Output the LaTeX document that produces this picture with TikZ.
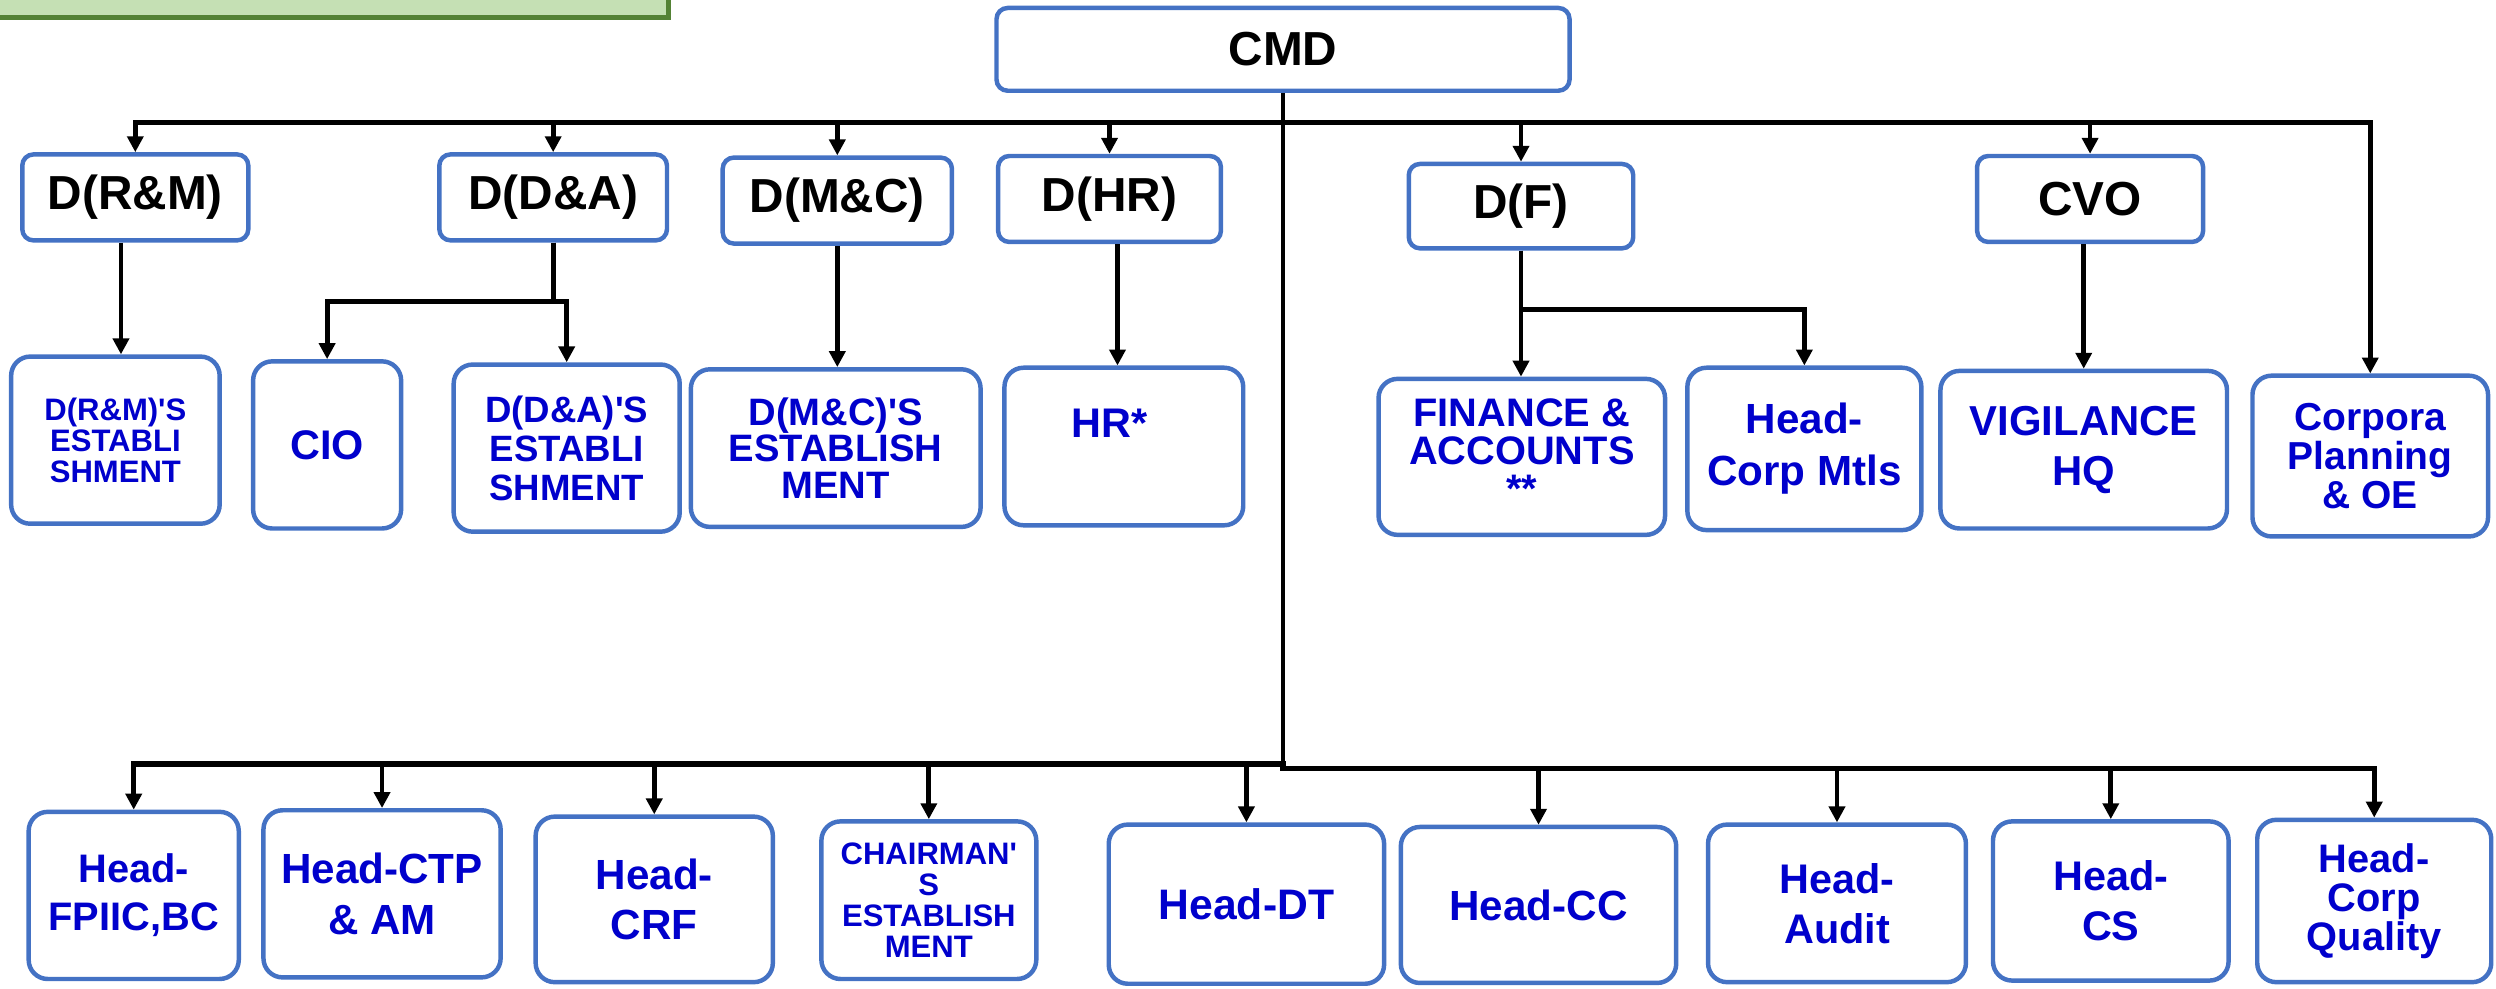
\documentclass[tikz,border=0pt]{standalone}
\usepackage{fontspec}
\setmainfont{Liberation Sans}
\usetikzlibrary{arrows.meta}
\definecolor{bxblue}{HTML}{4472C4}
\definecolor{txblue}{HTML}{0000CC}
\definecolor{grfill}{HTML}{C5E0B4}
\definecolor{grline}{HTML}{548235}
\newcommand\fs[2]{\fontsize{#1}{#2}\selectfont\bfseries}
\newcommand\sq{\XeTeXglyph\XeTeXcharglyph"27\relax}
\begin{document}
\begin{tikzpicture}[x=1pt,y=-1pt,
  box/.style={draw=bxblue,line width=2.8pt,fill=white,rounded corners=#1,inner sep=0pt,align=center},
  box/.default=12pt,
  topb/.style={box=7pt,text=black,font=\fs{30}{36}},
  sub/.style={box=12pt,text=txblue},
  ln/.style={line width=3pt,black},
  arr/.style={ln,-{Triangle[length=10pt,width=10pt]}},
  bar/.style={line width=3.5pt,black,line cap=rect}]
\useasboundingbox (0,0) rectangle (1568,621);
\fill[grfill] (-10,-10) rectangle (420,11);
\draw[grline,line width=3pt] (-10,-10) rectangle (420,11);

% top row
\node[topb,minimum width=360pt,minimum height=52pt] (cmd) at (806,31) {CMD};
\node[topb,minimum width=142pt,minimum height=54pt] (drm) at (85,124) {D(R\&M)};
\node[topb,minimum width=143pt,minimum height=54pt] (dda) at (347.5,124) {D(D\&A)};
\node[topb,minimum width=144pt,minimum height=54pt] (dmc) at (526,126) {D(M\&C)};
\node[topb,minimum width=140pt,minimum height=54pt] (dhr) at (697,125) {D(HR)};
\node[topb,minimum width=141pt,minimum height=53pt] (df) at (955.5,129.5) {D(F)};
\node[topb,minimum width=142pt,minimum height=54pt] (cvo) at (1313,125) {CVO};

% second row
\node[sub,font=\fs{19.5}{19.5},minimum width=131pt,minimum height=105pt] (drmE) at (72.5,276.5) {D(R\&M)\sq S\\ESTABLI\\SHMENT};
\node[sub,font=\fs{26}{31},minimum width=93pt,minimum height=105pt] (cio) at (205.5,279.5) {CIO};
\node[sub,font=\fs{23}{24.5},minimum width=142pt,minimum height=105pt] (ddaE) at (356,281.5) {D(D\&A)\sq S\\ESTABLI\\SHMENT};
\node[sub,font=\fs{24}{23},minimum width=182pt,minimum height=99pt] (dmcE) at (525,281.5) {D(M\&C)\sq S\\ESTABLISH\\MENT};
\node[sub,minimum width=150pt,minimum height=99pt] (hr) at (706,280.5) {};
\node[text=txblue,font=\fs{26}{31},inner sep=0pt] (hrt) at (697,266) {HR*};
\node[sub,minimum width=180pt,minimum height=98pt] (fin) at (956,287) {};
\node[text=txblue,font=\fs{25}{24},align=center,inner sep=0pt] (fint) at (956,283) {FINANCE \&\\ACCOUNTS\\**};
\node[sub,font=\fs{26.5}{32.5},minimum width=147pt,minimum height=102pt] (cmt) at (1133.5,282) {Head-\\Corp Mtls};
\node[sub,font=\fs{26.3}{31.4},minimum width=180pt,minimum height=99pt] (vig) at (1309,282.5) {VIGILANCE\\HQ};
\node[sub,font=\fs{24.5}{24.3},minimum width=148pt,minimum height=101pt] (cpo) at (1489,286.5) {Corpora\\Planning\\\& OE};

% bottom row
\node[sub,font=\fs{25}{30},minimum width=132pt,minimum height=105pt] (fp) at (84,562.5) {Head-\\FPIIC,BC};
\node[sub,font=\fs{26.5}{32},minimum width=149pt,minimum height=105pt] (ctp) at (240,561.5) {Head-CTP\\\& AM};
\node[sub,font=\fs{26.5}{32},minimum width=149pt,minimum height=104pt] (crf) at (411,565) {Head-\\CRF};
\node[sub,font=\fs{19.5}{19.5},minimum width=135pt,minimum height=99pt] (chair) at (583.5,565.5) {CHAIRMAN\sq\\S\\ESTABLISH\\MENT};
\node[sub,font=\fs{26.8}{32},minimum width=173pt,minimum height=100pt] (dt) at (783,568) {Head-DT};
\node[sub,font=\fs{26.5}{32},minimum width=173pt,minimum height=98pt] (cc) at (966.5,568.5) {Head-CC};
\node[sub,font=\fs{26}{31.5},minimum width=162pt,minimum height=99pt] (aud) at (1154,567.5) {Head-\\Audit};
\node[sub,font=\fs{26}{31.5},minimum width=148pt,minimum height=100pt] (cs) at (1326,566) {Head-\\CS};
\node[sub,font=\fs{25}{24.5},minimum width=147pt,minimum height=102pt] (cq) at (1491.5,566) {Head-\\Corp\\Quality};

% connectors
\coordinate (tb) at (806,77);
\coordinate (bl) at (806,480);
\coordinate (br) at (806,483);
\draw[ln] (cmd.south) -- (bl);
\draw[bar] (drm.north |- tb) -- (cpo.north |- tb);
\foreach \n in {drm,dda,dmc,dhr,df,cvo,cpo} \draw[arr] (\n.north |- tb) -- (\n.north);

\draw[arr] ([xshift=-9pt]drm.south) -- ([xshift=-9pt]drm.south |- drmE.north);
\draw[arr] (dda.south) -- ++(0,37) -| (cio.north);
\draw[arr] (dda.south) -- ++(0,37) -| (ddaE.north);
\draw[arr] (dmc.south) -- (dmc.south |- dmcE.north);
\draw[arr] ([xshift=5pt]dhr.south) -- ([xshift=5pt]dhr.south |- hr.north);
\draw[arr] (df.south) -- (df.south |- fin.north);
\draw[arr] (df.south) -- ++(0,37) -| (cmt.north);
\draw[arr] ([xshift=-4pt]cvo.south) -- ([xshift=-4pt]cvo.south |- vig.north);

\draw[bar,line width=4pt] (fp.north |- bl) -- (bl);
\draw[bar,line width=3.2pt] (br) -- (cq.north |- br);
\foreach \n in {fp,ctp,crf,chair,dt} \draw[arr] (\n.north |- bl) -- (\n.north);
\foreach \n in {cc,aud,cs,cq} \draw[arr] (\n.north |- br) -- (\n.north);
\end{tikzpicture}
\end{document}
